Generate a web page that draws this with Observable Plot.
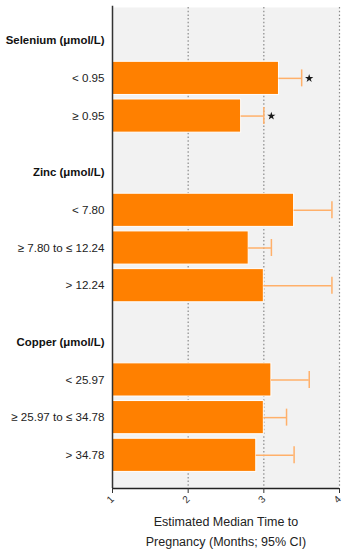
<!DOCTYPE html>
<html>
<head>
<meta charset="utf-8">
<script src="https://cdn.jsdelivr.net/npm/d3@7"></script>
<script src="https://cdn.jsdelivr.net/npm/@observablehq/plot@0.6"></script>
<style>
  html, body { margin: 0; padding: 0; background: #fff; }
  svg { font-family: "Liberation Sans", Arial, sans-serif; }
</style>
</head>
<body>
<div id="chart"></div>
<script>
// ---- data ----
const groups = ["Selenium (μmol/L)", "Zinc (μmol/L)", "Copper (μmol/L)"];
const seleniumCats = ["< 0.95", "≥ 0.95"];
const seleniumMedian = [3.2, 2.7];
const seleniumUpper = [3.5, 3.0];
const seleniumSig = [true, true];

const zincCats = ["< 7.80", "≥ 7.80 to ≤ 12.24", "> 12.24"];
const zincMedian = [3.4, 2.8, 3.0];
const zincUpper = [3.9, 3.1, 3.9];
const zincSig = [false, false, false];

const copperCats = ["< 25.97", "≥ 25.97 to ≤ 34.78", "> 34.78"];
const copperMedian = [3.1, 3.0, 2.9];
const copperUpper = [3.6, 3.3, 3.4];
const copperSig = [false, false, false];

const xTicks = [1, 2, 3, 4];
const xTitle = "Estimated Median Time to\nPregnancy (Months; 95% CI)";

// ---- layout rows (header, then one row per category, gap between groups) ----
const groupData = [
  [seleniumCats, seleniumMedian, seleniumUpper, seleniumSig],
  [zincCats, zincMedian, zincUpper, zincSig],
  [copperCats, copperMedian, copperUpper, copperSig]
];
const headers = [];
const rows = [];
let pos = 1;
groupData.forEach(([cats, med, up, sig], gi) => {
  headers.push({label: groups[gi], pos});
  cats.forEach((c, i) => {
    pos += 1;
    rows.push({label: c, pos, value: med[i], upper: up[i], sig: sig[i]});
  });
  pos += 1.5;
});
const yMin = 0.12, yMax = 12.88;
const half = 0.44, capHalf = 0.225;

const chart = Plot.plot({
  width: 349,
  height: 550,
  marginLeft: 112,
  marginRight: 10,
  marginTop: 7,
  marginBottom: 62,
  style: {fontFamily: '"Liberation Sans", Arial, sans-serif', background: "#fff"},
  x: {domain: [1, 4], axis: null},
  y: {domain: [yMin, yMax], reverse: true, axis: null},
  marks: [
    Plot.frame({fill: "#f2f2f2", stroke: null}),
    Plot.ruleX(xTicks.slice(1), {stroke: "#8a8a8a", strokeDasharray: "1.5,2.2", strokeWidth: 1.2}),
    Plot.rectX(rows, {
      x1: 1, x2: "value",
      y1: d => d.pos - half, y2: d => d.pos + half,
      fill: "#ff8000", stroke: "#ffffff", strokeWidth: 1
    }),
    Plot.ruleY(rows, {y: "pos", x1: "value", x2: "upper", stroke: "#ffb06a", strokeWidth: 1.5}),
    Plot.ruleX(rows, {x: "upper", y1: d => d.pos - capHalf, y2: d => d.pos + capHalf, stroke: "#ffb06a", strokeWidth: 1.5}),
    Plot.dot(rows.filter(d => d.sig), {x: "upper", y: "pos", dx: 7.5, symbol: "star", fill: "#1a1a1a", r: 2.6}),
    Plot.ruleX([1], {stroke: "#333", strokeWidth: 1.5, y1: yMin - 0.03, y2: yMax}),
    Plot.ruleY([yMax], {stroke: "#222", strokeWidth: 1.5}),
    Plot.axisX({ticks: xTicks, tickFormat: d => String(d), tickSize: 5, tickRotate: -45, fontSize: 10, color: "#333", label: null, tickPadding: 4}),
    Plot.text(headers, {y: "pos", text: "label", frameAnchor: "left", dx: -8, textAnchor: "end", fontWeight: "bold", fontSize: 11.4, fill: "#111"}),
    Plot.text(rows, {y: "pos", text: "label", frameAnchor: "left", dx: -8, textAnchor: "end", fontSize: 11.6, fill: "#222"}),
    Plot.text([xTitle], {text: d => d, frameAnchor: "bottom", dy: 41, lineAnchor: "middle", lineHeight: 1.6, fontSize: 12.5, fill: "#222"})
  ]
});
document.getElementById("chart").appendChild(chart);
</script>
</body>
</html>
